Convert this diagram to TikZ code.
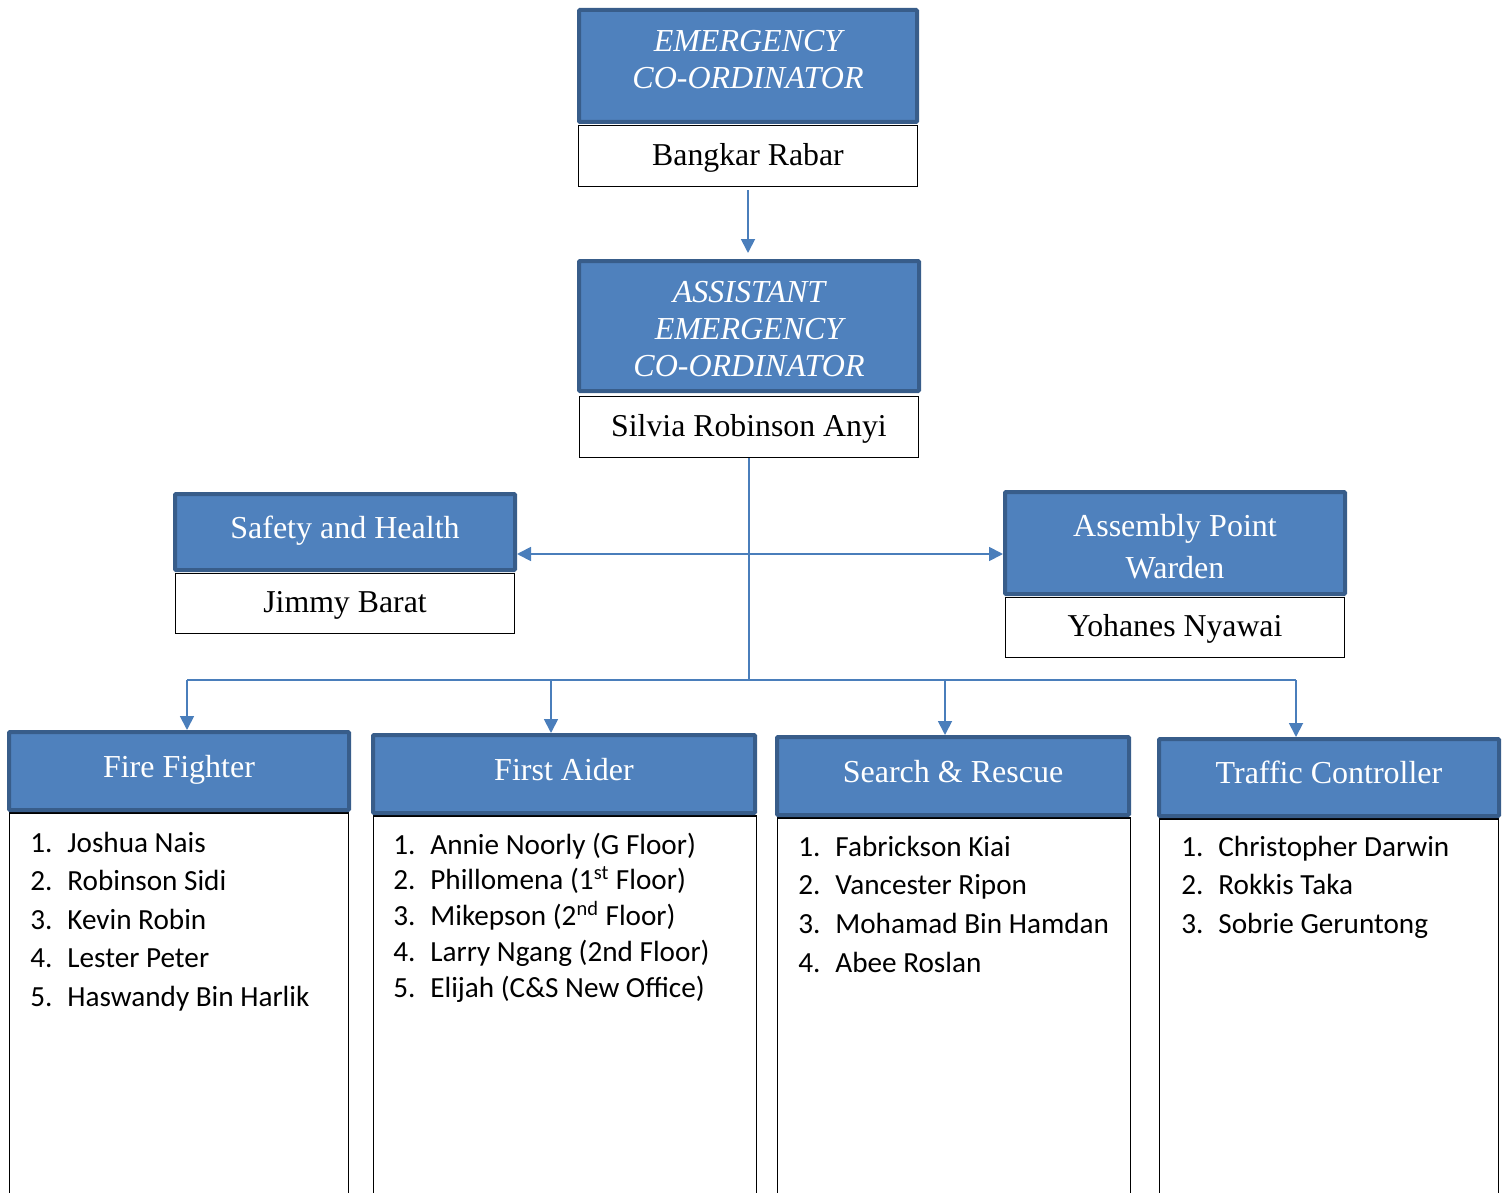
\documentclass[tikz,border=0pt]{standalone}
\usepackage{fontspec}
\setmainfont{Liberation Serif}
\newfontfamily\listfont{Carlito}
\usetikzlibrary{positioning,arrows.meta,calc}
\definecolor{headblue}{HTML}{4F81BD}
\definecolor{headline}{HTML}{385D8A}
\definecolor{linkblue}{HTML}{4A7EBB}
\tikzstyle{head} = [draw=headline,line width=2pt,fill=headblue,text=white,align=center,inner sep=0pt,rounded corners=0.5pt,font=\fontsize{16}{18.5}\selectfont]
\tikzstyle{title} = [head,text height=10.9pt,text depth=4.5pt]
\tikzstyle{headtext} = [text=white,align=center,inner sep=0pt,font=\itshape\fontsize{16}{18.5}\selectfont]
\tikzstyle{holder} = [draw=black,line width=0.7pt,fill=white,inner sep=0pt,text height=10.6pt,text depth=1.5pt,font=\fontsize{15.9}{18}\selectfont]
\tikzstyle{member} = [anchor=base west,inner sep=0pt,font=\listfont\fontsize{14.6}{16}\selectfont]
\tikzstyle{link} = [draw=linkblue,line width=0.9pt]
\tikzstyle{arrow} = [link,-{Triangle[length=7pt,width=7pt]}]

\begin{document}
\begin{tikzpicture}[x=0.5pt,y=-0.5pt]
\useasboundingbox (0,0) rectangle (1505,1193);

 \node[head,minimum width=169pt,minimum height=56pt] (ec) at (748,66) {};
 \node[headtext] (ectext) at (748,60) {EMERGENCY\\CO-ORDINATOR};
 \node[holder,minimum width=169.5pt,minimum height=30.5pt] (ecname) at (748,156) {Bangkar Rabar};

 \node[head,minimum width=170pt,minimum height=65pt] (aec) at (749,326) {};
 \node[headtext,font=\itshape\fontsize{16}{18.3}\selectfont] (aectext) at (749,329) {ASSISTANT\\EMERGENCY\\CO-ORDINATOR};
 \node[holder,minimum width=169.5pt,minimum height=30.5pt] (aecname) at (749,427) {Silvia Robinson Anyi};

 \node[title,minimum width=170pt,minimum height=38pt] (safety) at (345,532) {Safety and Health};
 \node[holder,minimum width=169.5pt,minimum height=30pt] (safetyname) at (345,603.5) {Jimmy Barat};

 \node[head,minimum width=170pt,minimum height=51pt] (apw) at (1175,543) {};
 \node[headtext,font=\fontsize{16}{21}\selectfont] (apwtext) at (1175,547) {Assembly Point\\Warden};
 \node[holder,minimum width=169.5pt,minimum height=30pt] (apwname) at (1175,627.5) {Yohanes Nyawai};

 \node[holder,minimum width=169.5pt,minimum height=198.5pt] (ffbody) at (179,1011.5) {};
 \node[title,minimum width=170pt,minimum height=39pt] (ff) at (179,771) {Fire Fighter};

 \node[holder,minimum width=191.5pt,minimum height=197pt] (fabody) at (565,1013) {};
 \node[title,minimum width=191pt,minimum height=39pt] (fa) at (564,774) {First Aider};

 \node[holder,minimum width=176.5pt,minimum height=196pt] (srbody) at (954,1014) {};
 \node[title,minimum width=176pt,minimum height=39pt] (sr) at (953,776) {Search \& Rescue};

 \node[holder,minimum width=169.5pt,minimum height=195.5pt] (tcbody) at (1329,1014.5) {};
 \node[title,minimum width=170pt,minimum height=38.5pt] (tc) at (1329,777.5) {Traffic Controller};

 \foreach \who [count=\i] in {{Joshua Nais},{Robinson Sidi},{Kevin Robin},{Lester Peter},{Haswandy Bin Harlik}}
  \node[member] (ff\i) at (30,{852+38.5*(\i-1)}) {\makebox[18.5pt][l]{\i.}\who};
 \foreach \who [count=\i] in {{Annie Noorly (G Floor)},{Phillomena (1\textsuperscript{st} Floor)},{Mikepson (2\textsuperscript{nd} Floor)},{Larry Ngang (2nd Floor)},{Elijah (C\&S New Office)}}
  \node[member] (fa\i) at (393,{854+35.75*(\i-1)}) {\makebox[18.5pt][l]{\i.}\who};
 \foreach \who [count=\i] in {{Fabrickson Kiai},{Vancester Ripon},{Mohamad Bin Hamdan},{Abee Roslan}}
  \node[member] (sr\i) at (798,{856+38.7*(\i-1)}) {\makebox[18.5pt][l]{\i.}\who};
 \foreach \who [count=\i] in {{Christopher Darwin},{Rokkis Taka},{Sobrie Geruntong}}
  \node[member] (tc\i) at (1181,{856+38.5*(\i-1)}) {\makebox[18.5pt][l]{\i.}\who};

 \coordinate (split) at (749,554);
 \coordinate (bus) at (749,680);
 \coordinate (ffdrop) at (187,680);
 \coordinate (fadrop) at (551,680);
 \coordinate (srdrop) at (945,680);
 \coordinate (tcdrop) at (1296,680);

 \draw[arrow,shorten <=1.5pt,shorten >=3pt] (ecname.south) -- (ecname.south |- aec.north);
 \draw[link] (aecname.south) -- (bus);
 \draw[arrow] (split) -- (split -| safety.east);
 \draw[arrow] (split) -- (split -| apw.west);
 \draw[link] (ffdrop) -- (tcdrop);
 \draw[arrow] (ffdrop) -- (ffdrop |- ff.north);
 \draw[arrow] (fadrop) -- (fadrop |- fa.north);
 \draw[arrow] (srdrop) -- (srdrop |- sr.north);
 \draw[arrow] (tcdrop) -- (tcdrop |- tc.north);
\end{tikzpicture}
\end{document}
